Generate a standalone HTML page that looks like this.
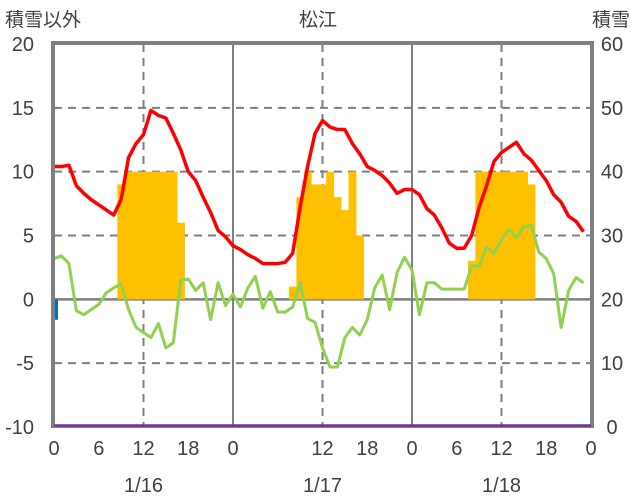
<!DOCTYPE html>
<html><head><meta charset="utf-8">
<style>
html,body{margin:0;padding:0;background:#fff;}
svg{display:block;font-family:"Liberation Sans","Noto Sans CJK JP",sans-serif;}
</style></head>
<body>
<svg id="chart" width="636" height="501" viewBox="0 0 636 501" xmlns="http://www.w3.org/2000/svg">
<g id="grid"></g>
<g id="bars"></g>
<g id="lines"></g>
<g id="frame"></g>
<g id="labels"></g>
<text x="5" y="26" font-size="19" fill="#404040">積雪以外</text>
<text x="318" y="26" font-size="19" fill="#404040" text-anchor="middle">松江</text>
<text x="630" y="26" font-size="19" fill="#404040" text-anchor="end">積雪</text>
</svg>
<script>
const leftTicks=[20,15,10,5,0,-5,-10];
const rightTicks=[60,50,40,30,20,10,0];
const xTickLabels=["0","6","12","18","0","12","18","0","6","12","18","0"];
const xTickHours=[0,6,12,18,24,36,42,48,54,60,66,72];
const dayLabels=["1/16","1/17","1/18"];
const redSeries=[10.4,10.4,10.5,8.9,8.3,7.8,7.4,7.0,6.6,7.8,11.1,12.2,12.9,14.8,14.4,14.2,13.0,11.7,10.0,9.3,8.0,6.8,5.4,4.9,
4.2,3.9,3.5,3.2,2.8,2.8,2.8,2.9,3.6,7.2,10.4,13.0,14.0,13.5,13.3,13.3,12.2,11.4,10.4,10.1,9.7,9.1,8.3,8.6,
8.6,8.2,7.1,6.6,5.6,4.4,4.0,4.0,5.0,7.2,8.9,10.8,11.5,11.9,12.3,11.4,10.9,10.1,9.3,8.2,7.6,6.5,6.1,5.3];
const greenSeries=[3.2,3.4,2.8,-0.9,-1.2,-0.8,-0.4,0.5,0.9,1.2,-0.8,-2.2,-2.6,-3.0,-1.9,-3.8,-3.4,1.5,1.6,0.7,1.3,-1.6,1.3,-0.5,
0.4,-0.6,0.9,1.8,-0.7,0.6,-1.0,-1.0,-0.6,1.3,-1.5,-1.8,-3.8,-5.3,-5.3,-3.0,-2.2,-2.8,-1.6,0.9,1.9,-0.8,2.1,3.3,
2.3,-1.2,1.3,1.3,0.8,0.8,0.8,0.8,2.6,2.6,4.1,3.6,4.7,5.5,4.8,5.7,5.8,3.7,3.2,2.0,-2.2,0.7,1.7,1.3];
const snowHours=[9,10,11,12,13,14,15,16,17,32,33,34,35,36,37,38,39,40,41,56,57,58,59,60,61,62,63,64];
const snowValues=[38,40,40,40,40,40,40,40,32,22,36,40,38,38,40,36,34,40,30,26,40,40,40,40,40,40,40,38];
const blueValue=[-1.6];

const X0=54,X1=591,YT=44,YB=427;
const x=h=>X0+(X1-X0)*h/72;
const yl=v=>YT+(YB-YT)*(20-v)/30;
const yr=v=>YT+(YB-YT)*(60-v)/60;
const NS="http://www.w3.org/2000/svg";
function mk(tag,attrs,parent){const e=document.createElementNS(NS,tag);for(const k in attrs)e.setAttribute(k,attrs[k]);parent.appendChild(e);return e;}
const grid=document.getElementById('grid'),bars=document.getElementById('bars'),lines=document.getElementById('lines'),frame=document.getElementById('frame'),labels=document.getElementById('labels');

[15,10,5,-5].forEach(v=>{const l=mk('line',{x1:X0,x2:X1,y1:yl(v),y2:yl(v),stroke:'#7f7f7f','stroke-width':2,'stroke-dasharray':'8,6'},grid);

});
[12,36,60].forEach(h=>{const l=mk('line',{x1:x(h),x2:x(h),y1:YT,y2:YB,stroke:'#7f7f7f','stroke-width':2,'stroke-dasharray':'8,6'},grid);

});
[24,48].forEach(h=>{const l=mk('line',{x1:x(h),x2:x(h),y1:YT,y2:YB,stroke:'#7f7f7f','stroke-width':2},grid);

});

const bw=(X1-X0)/72;
snowHours.forEach((h,i)=>{const r=mk('rect',{x:x(h)-bw/2,y:yr(snowValues[i]),width:bw+0.4,height:yr(20)-yr(snowValues[i]),fill:'#FFC000'},bars);

});
const bb=mk('rect',{x:X0,y:yl(0),width:4,height:yl(blueValue[0])-yl(0),fill:'#0070C0'},bars);



const z=mk('line',{x1:X0,x2:X1,y1:yl(0),y2:yl(0),stroke:'#7f7f7f','stroke-width':2.5},grid);



const g=mk('polyline',{points:greenSeries.map((v,i)=>x(i)+','+yl(v)).join(' '),fill:'none',stroke:'#92D050','stroke-width':3,'stroke-linejoin':'round'},lines);


const r=mk('polyline',{points:redSeries.map((v,i)=>x(i)+','+yl(v)).join(' '),fill:'none',stroke:'#FF0000','stroke-width':3.5,'stroke-linejoin':'round'},lines);



const f1=mk('path',{d:`M${X0-1},${YB} L${X0-1},${YT-1} L${X1+1},${YT-1} L${X1+1},${YB}`,fill:'none',stroke:'#7f7f7f','stroke-width':4},frame);


const bl=mk('line',{x1:X0-3,x2:X1+3,y1:YB,y2:YB,stroke:'#7f7f7f','stroke-width':2},frame);


const pl=mk('line',{x1:X0,x2:X1,y1:YB-1.5,y2:YB-1.5,stroke:'#7030A0','stroke-width':2.5},frame);



leftTicks.forEach(v=>{const t=mk('text',{x:34,y:yl(v)+7,'font-size':20,fill:'#404040','text-anchor':'end'},labels);t.textContent=v;

});
rightTicks.forEach(v=>{const t=mk('text',{x:612,y:yr(v)+7,'font-size':20,fill:'#404040','text-anchor':'middle'},labels);t.textContent=v;

});
xTickHours.forEach((h,i)=>{const t=mk('text',{x:x(h),y:455,'font-size':20,fill:'#404040','text-anchor':'middle'},labels);t.textContent=xTickLabels[i];

});
dayLabels.forEach((d,i)=>{const t=mk('text',{x:x(12+24*i),y:492,'font-size':20,fill:'#404040','text-anchor':'middle'},labels);t.textContent=d;

});
</script>
</body></html>
